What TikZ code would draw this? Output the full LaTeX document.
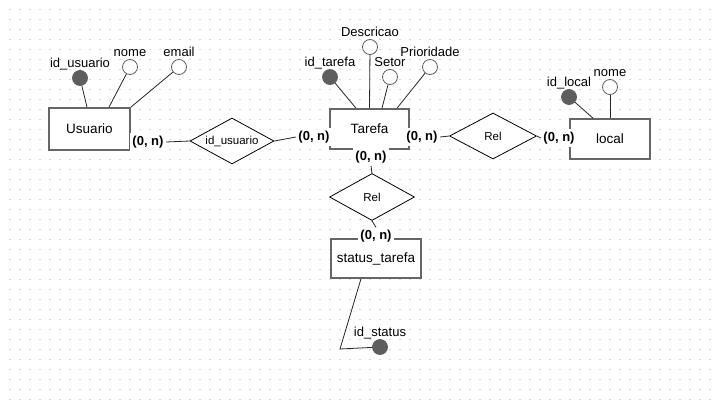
\documentclass[tikz,border=0pt]{standalone}
\usepackage{fontspec}
\setmainfont{Liberation Sans}
\usetikzlibrary{shapes.geometric}

\definecolor{borda}{HTML}{666666}
\definecolor{chave}{HTML}{5E5E5E}
\definecolor{ponto}{HTML}{B4B4B4}

\tikzset{
    entidade/.style={draw=borda, line width=1.6pt, fill=white, inner sep=0pt, font=\fontsize{13.5}{16}\selectfont},
    relacao/.style={draw, diamond, aspect=1.8, inner sep=0pt, fill=white, line width=0.8pt, font=\fontsize{11.5}{14}\selectfont},
    atributo/.style={draw=chave, circle, minimum size=15pt, inner sep=0pt, fill=white, line width=0.8pt},
    chaveprim/.style={atributo, fill=chave},
    rotulo/.style={anchor=base, inner sep=0pt, font=\fontsize{13}{15}\selectfont},
    card/.style={fill=white, inner sep=2.5pt, font=\bfseries\fontsize{13}{15}\selectfont},
    liga/.style={draw=black!85, line width=0.8pt},
}

\begin{document}
\begin{tikzpicture}[x=1pt, y=-1pt]
    \useasboundingbox (0,0) rectangle (715,407);
    \fill[white] (0,0) rectangle (715,407);
    \foreach \i in {1,...,71}
        \foreach \j in {0,...,39}
            \fill[ponto] (10*\i, 9.5+10*\j) circle (0.6pt);

    % entidades
    \node[entidade, minimum width=81, minimum height=42] (usuario) at (89.5,129) {Usuario};
    \node[entidade, minimum width=79, minimum height=40] (tarefa) at (369.5,129) {Tarefa};
    \node[entidade, minimum width=80, minimum height=40] (local) at (610,139) {local};
    \node[entidade, minimum width=90, minimum height=39] (status) at (376,258.5) {status\_tarefa};

    % relacionamentos
    \node[relacao, minimum width=84, minimum height=46] (rel1) at (232,141) {id\_usuario};
    \node[relacao, minimum width=87, minimum height=46] (rel2) at (493,136) {Rel};
    \node[relacao, minimum width=85, minimum height=47] (rel3) at (372,197) {Rel};

    % atributos
    \node[chaveprim] (idu) at (80,78) {};
    \node[atributo] (nomeu) at (130,67) {};
    \node[atributo] (emailu) at (179,67) {};
    \node[chaveprim] (idt) at (330,77) {};
    \node[atributo] (desc) at (370,47) {};
    \node[atributo] (setor) at (390,77) {};
    \node[atributo] (prio) at (430,67) {};
    \node[chaveprim] (idl) at (569,97) {};
    \node[atributo] (nomel) at (610,87) {};
    \node[chaveprim] (ids) at (380,347) {};

    \node[rotulo] (idu-r) at ([yshift=10.5pt]idu.center) {id\_usuario};
    \node[rotulo] (nomeu-r) at ([yshift=10.5pt]nomeu.center) {nome};
    \node[rotulo] (emailu-r) at ([yshift=10.5pt]emailu.center) {email};
    \node[rotulo] (idt-r) at ([yshift=10.5pt]idt.center) {id\_tarefa};
    \node[rotulo] (desc-r) at ([yshift=10.5pt]desc.center) {Descricao};
    \node[rotulo] (setor-r) at ([yshift=10.5pt]setor.center) {Setor};
    \node[rotulo] (prio-r) at ([yshift=10.5pt]prio.center) {Prioridade};
    \node[rotulo] (idl-r) at ([yshift=10.5pt]idl.center) {id\_local};
    \node[rotulo] (nomel-r) at ([yshift=10.5pt]nomel.center) {nome};
    \node[rotulo] (ids-r) at ([yshift=10.5pt]ids.center) {id\_status};

    \draw[liga] (idu) -- ([xshift=-2.5pt]usuario.north);
    \draw[liga] (nomeu) -- ([xshift=19.5pt]usuario.north);
    \draw[liga] (emailu) -- (usuario.north east);
    \draw[liga] (idt) -- ([xshift=-13.5pt]tarefa.north);
    \draw[liga] (desc) -- (tarefa.north);
    \draw[liga] (setor) -- ([xshift=12.5pt]tarefa.north);
    \draw[liga] (prio) -- ([xshift=27.5pt]tarefa.north);
    \draw[liga] (idl) -- ([xshift=-17pt]local.north);
    \draw[liga] (nomel) -- (local.north);
    \coordinate (dobra) at (340,349);
    \draw[liga] ([xshift=-15pt]status.south) -- (dobra) -- (ids);

    % cardinalidades
    \node[card] (c1) at (148,142) {(0, n)};
    \node[card] (c2) at (314,137) {(0, n)};
    \node[card] (c3) at (422,137) {(0, n)};
    \node[card] (c4) at (559,138) {(0, n)};
    \node[card] (c5) at (371,157) {(0, n)};
    \node[card] (c6) at (376,236) {(0, n)};

    \draw[liga] (c1.east) -- (rel1.west);
    \draw[liga] (rel1.east) -- (c2.west);
    \draw[liga] (c3.east) -- (rel2.west);
    \draw[liga] (rel2.east) -- (c4.west);
    \draw[liga] (c5.south) -- (rel3.north);
    \draw[liga] (rel3.south) -- (c6.north);
\end{tikzpicture}
\end{document}
